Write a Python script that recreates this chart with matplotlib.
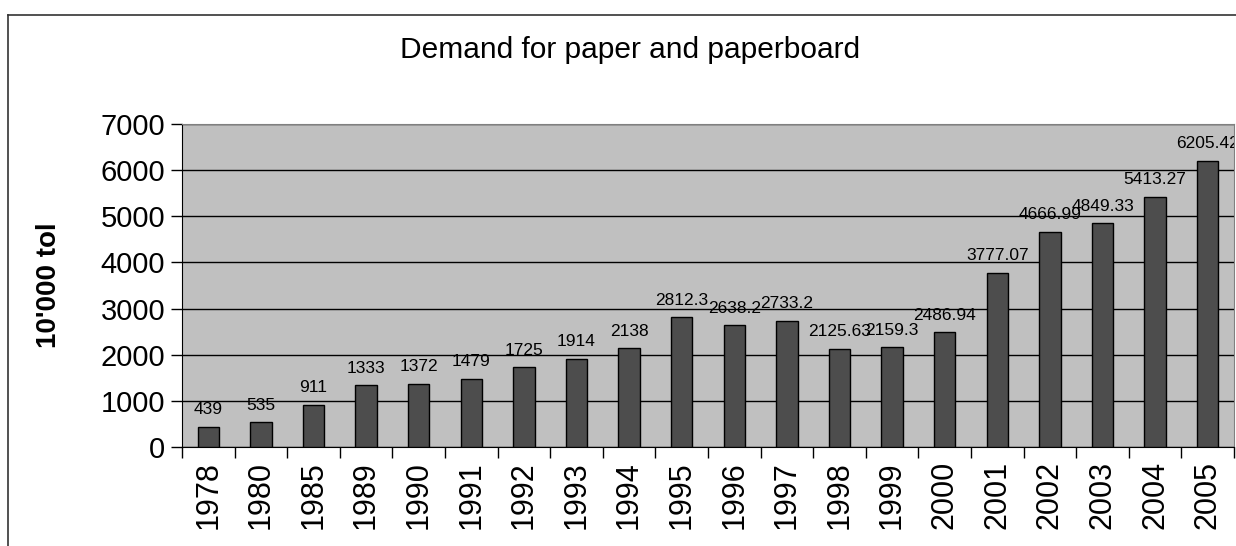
import matplotlib.pyplot as plt
from matplotlib.lines import Line2D
import numpy as np

plt.rcParams['font.family'] = ['Liberation Sans', 'DejaVu Sans']

years = ['1978', '1980', '1985', '1989', '1990', '1991', '1992', '1993', '1994', '1995',
         '1996', '1997', '1998', '1999', '2000', '2001', '2002', '2003', '2004', '2005']
demand = [439, 535, 911, 1333, 1372, 1479, 1725, 1914, 2138, 2812.3,
          2638.2, 2733.2, 2125.63, 2159.3, 2486.94, 3777.07, 4666.99, 4849.33, 5413.27, 6205.42]
labels = ['439', '535', '911', '1333', '1372', '1479', '1725', '1914', '2138', '2812.3',
          '2638.2', '2733.2', '2125.63', '2159.3', '2486.94', '3777.07', '4666.99', '4849.33',
          '5413.27', '6205.42']

W, H = 1236, 546
fig = plt.figure(figsize=(W / 100, H / 100), dpi=100)
ax = fig.add_axes([182 / W, 1 - 447 / H, (1234 - 182) / W, (447 - 124) / H])

x = np.arange(len(years))
ax.set_facecolor('#c0c0c0')
ax.bar(x, demand, width=0.41, color='#4d4d4d', edgecolor='black', linewidth=1, zorder=3)
for xi, v, t in zip(x, demand, labels):
    ax.annotate(t, (xi, v), xytext=(0, 7), textcoords='offset points', ha='center', va='bottom',
                fontsize=12.5, zorder=4, annotation_clip=False, clip_on=True)

ax.set_xlim(-0.5, len(years) - 0.5)
ax.set_ylim(0, 7000)
ax.set_yticks(range(0, 7001, 1000))
ax.tick_params(axis='y', labelsize=21, length=8, width=1, direction='out', pad=4)
ax.yaxis.grid(True, color='black', linewidth=1, zorder=1)
ax.set_xticks(x)
ax.set_xticklabels(years, rotation=90, fontsize=22)
ax.set_xticks(np.arange(-0.5, len(years)), minor=True)
ax.tick_params(axis='x', which='major', length=0, pad=10)
ax.tick_params(axis='x', which='minor', length=8, width=1)
for s in ['top', 'right']:
    ax.spines[s].set_color('#808080')
for s in ['left', 'bottom']:
    ax.spines[s].set_color('black')

ax.set_ylabel("10'000 tol", fontsize=20, fontweight='bold', labelpad=28)
fig.text(630 / W, 1 - 50 / H, 'Demand for paper and paperboard', ha='center', va='center', fontsize=21.5)

# outer chart border (clipped by the image at right and bottom)
fig.add_artist(Line2D([8 / W, 8 / W], [1 - 15 / H, 0], color='#333333', linewidth=1.2))
fig.add_artist(Line2D([8 / W, 1], [1 - 15 / H, 1 - 15 / H], color='#333333', linewidth=1.2))

fig.savefig('out.png', dpi=100)
